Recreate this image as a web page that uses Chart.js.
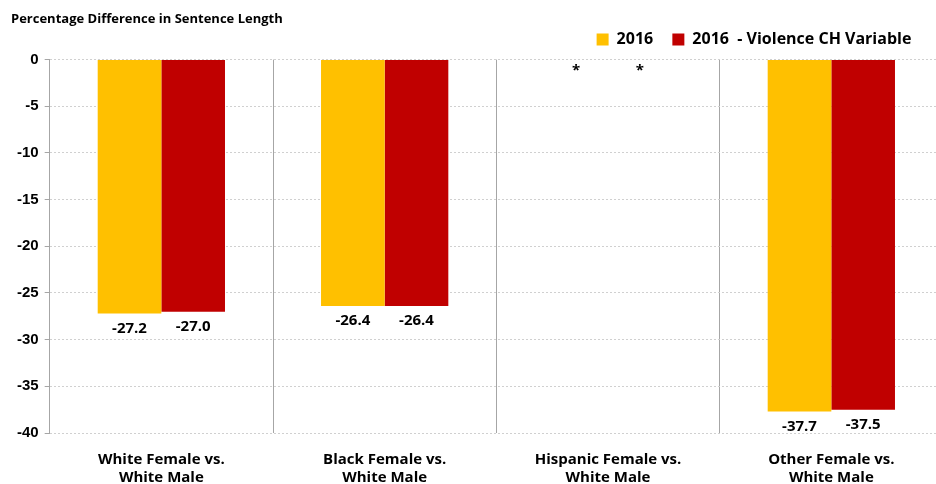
<!DOCTYPE html>
<html>
<head>
<meta charset="utf-8">
<script src="https://cdn.jsdelivr.net/npm/chart.js@4.4.1/dist/chart.umd.min.js"></script>
<style>
  html, body { margin: 0; padding: 0; background: #fff; overflow: hidden; }
  #wrap { width: 943px; height: 505px; }
</style>
</head>
<body>
<div id="wrap"><canvas id="myChart"></canvas></div>
<script>
// categories and values
const categories = [
  ['White Female vs.', 'White Male'],
  ['Black Female vs.', 'White Male'],
  ['Hispanic Female vs.', 'White Male'],
  ['Other Female vs.', 'White Male']
];
const seriesNames = ['2016', '2016  - Violence CH Variable'];
const values2016 = [-27.2, -26.4, null, -37.7];
const valuesViolence = [-27.0, -26.4, null, -37.5];
const yTicks = [0, -5, -10, -15, -20, -25, -30, -35, -40];

const labelFont = '"Open Sans", "DejaVu Sans", sans-serif';

/* etichette sotto le barre, asterisco dove manca il dato */
const barLabels = {
  id: 'barLabels',
  afterDatasetsDraw(chart) {
    const ctx = chart.ctx;
    const y0 = chart.scales.y.getPixelForValue(0);
    ctx.save();
    ctx.fillStyle = '#000';
    ctx.textAlign = 'center';
    ctx.textBaseline = 'middle';
    ctx.font = 'bold 15px ' + labelFont;
    chart.data.datasets.forEach((ds, i) => {
      chart.getDatasetMeta(i).data.forEach((bar, j) => {
        const v = ds.data[j];
        if (v === null) {
          ctx.fillText('*', bar.x, y0 + 11);
        } else {
          ctx.fillText(v.toFixed(1), bar.x, bar.y + 15);
        }
      });
    });
    ctx.restore();
  }
};

const data = {
  labels: categories,
  datasets: [
    { label: seriesNames[0], data: values2016, backgroundColor: '#FFC000' },
    { label: seriesNames[1], data: valuesViolence, backgroundColor: '#C00000' }
  ]
};

const config = {
  type: 'bar',
  data: data,
  plugins: [barLabels],
  options: {
    responsive: true,
    maintainAspectRatio: false,
    animation: false,
    layout: { padding: { left: 11, right: 0, top: 2, bottom: 0 } },
    datasets: { bar: { categoryPercentage: 0.57, barPercentage: 1.0 } },
    plugins: {
      title: {
        display: true,
        text: 'Percentage Difference in Sentence Length',
        align: 'start',
        color: '#000',
        font: { family: labelFont, size: 13, weight: 'bold' },
        padding: { top: 9, bottom: -10 }
      },
      // sottotitolo vuoto: solo spazio tra legenda e grafico
      subtitle: {
        display: true,
        text: ' ',
        weight: 500,
        font: { size: 1, lineHeight: 1 },
        padding: { top: 1, bottom: 0 }
      },
      legend: {
        position: 'top',
        align: 'end',
        labels: {
          color: '#000',
          boxWidth: 12,
          boxHeight: 12,
          padding: 15,
          font: { family: labelFont, size: 16, weight: 'bold' },
          // spazi finali per allargare la distanza tra le voci
          generateLabels(chart) {
            const items = Chart.defaults.plugins.legend.labels.generateLabels(chart);
            items[0].text += ' ';
            items[items.length - 1].text += '    ';
            return items;
          }
        }
      },
      tooltip: { enabled: false }
    },
    scales: {
      x: {
        position: 'bottom',
        grid: {
          offset: true,
          color: '#a6a6a6',
          lineWidth: 1,
          drawTicks: false
        },
        border: { display: false },
        ticks: {
          color: '#000',
          font: { family: labelFont, size: 15, weight: 'bold' },
          padding: 18,
          maxRotation: 0
        }
      },
      y: {
        min: -40,
        max: 0,
        afterBuildTicks(axis) { axis.ticks = yTicks.map(v => ({ value: v })); },
        grid: {
          color: '#d0d0d0',
          lineWidth: 1,
          drawTicks: true,
          tickLength: 5,
          tickColor: '#a6a6a6'
        },
        // griglia orizzontale punteggiata
        border: { display: true, color: '#a6a6a6', dash: [2, 2] },
        ticks: {
          color: '#000',
          padding: 6,
          font: { family: '"Liberation Sans", Arial, sans-serif', size: 15, weight: 'bold' }
        }
      }
    }
  }
};

const ctx = document.getElementById('myChart').getContext('2d');
const myChart = new Chart(ctx, config);
</script>
</body>
</html>
